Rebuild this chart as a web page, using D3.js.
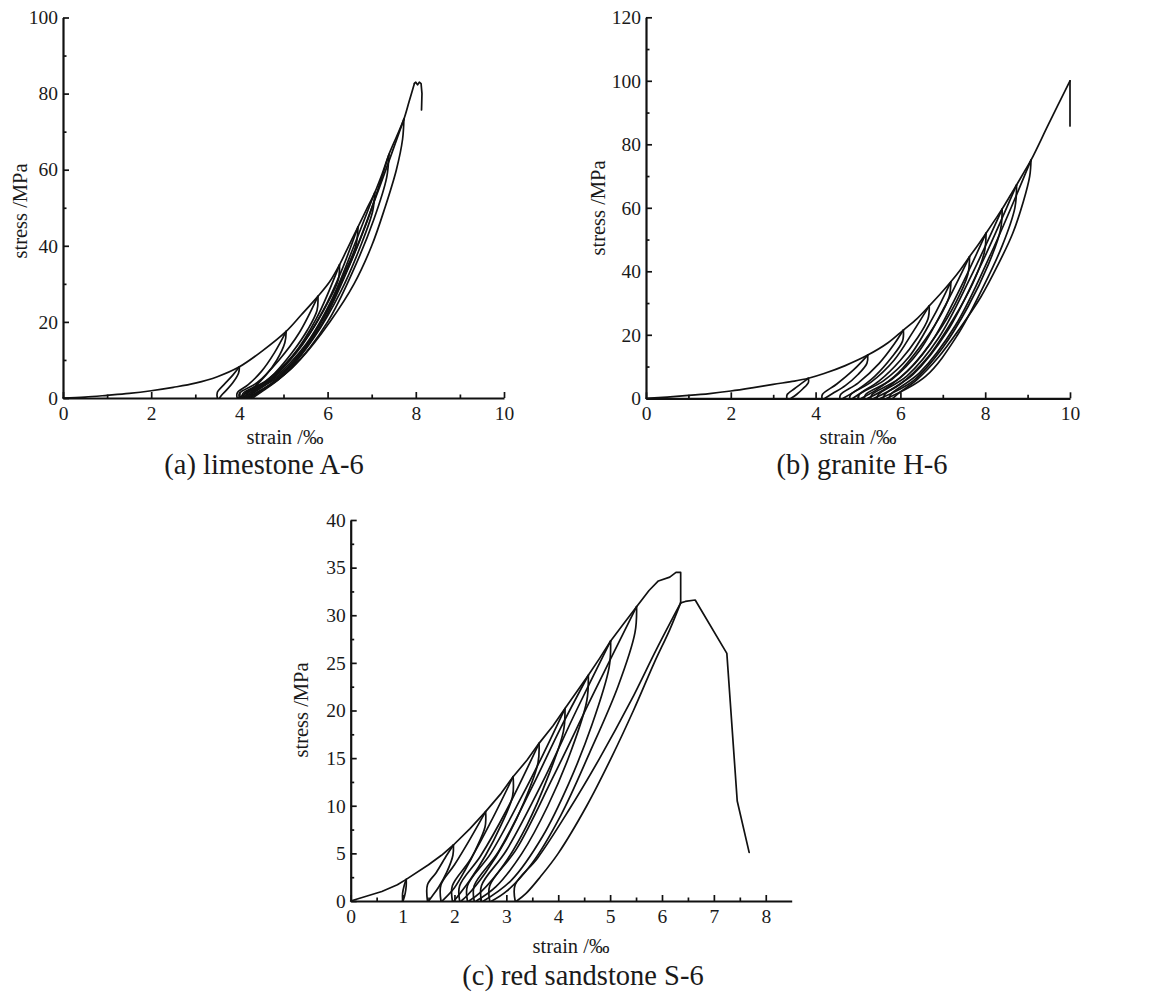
<!DOCTYPE html>
<html><head><meta charset="utf-8">
<script src="https://cdn.jsdelivr.net/npm/d3@7"></script>
<style>
body{margin:0;background:#fff}
svg text{font-family:"Liberation Serif","Times New Roman","DejaVu Serif",serif;fill:#1a1a1a}
</style>
</head><body>
<svg id="chart" width="1152" height="995"></svg>
<script>
// ---------- tick values / labels ----------
const aXTicks = [0,2,4,6,8,10];
const aXMinor = [1,3,5,7,9];
const aYTicks = [0,20,40,60,80,100];
const aYMinor = [10,30,50,70,90];
const bXTicks = [0,2,4,6,8,10];
const bXMinor = [1,3,5,7,9];
const bYTicks = [0,20,40,60,80,100,120];
const bYMinor = [10,30,50,70,90,110];
const cXTicks = [0,1,2,3,4,5,6,7,8];
const cXMinor = [0.5,1.5,2.5,3.5,4.5,5.5,6.5,7.5];
const cYTicks = [0,5,10,15,20,25,30,35,40];
const cYMinor = [2.5,7.5,12.5,17.5,22.5,27.5,32.5,37.5];

const captions = ["(a) limestone A-6","(b) granite H-6","(c) red sandstone S-6"];
const xTitle = "strain /\u2030";
const yTitle = "stress /MPa";

// ---------- (a) limestone A-6 : [strain ‰, stress MPa] ----------
const limestoneEnvelope = [[0,0],[0.5,0.25],[1,0.7],[1.5,1.2],[2,1.9],[2.5,2.8],[3,3.9],[3.5,5.6],[4.0,8.2],[4.5,12.2],[5.06,17.5],[5.4,21.8],[5.78,26.7],[6.05,30.6],[6.27,35],[6.48,40],[6.69,45],[6.88,49.5],[7.07,54],[7.24,59],[7.39,64],[7.56,68.6],[7.73,73.3],[7.85,78],[7.97,82.7]];
const limestoneFailure = [[7.97,82.7],[8.0,83],[8.04,82.3],[8.08,83],[8.12,82.6],[8.14,80],[8.13,75.7]];
const limestoneUnload = [
  [[4.0,8.2],[3.98,6.5],[3.85,4],[3.7,2],[3.6,0.8],[3.55,0]],
  [[5.06,17.5],[5.03,14.5],[4.85,10],[4.6,6],[4.3,2.5],[4.1,0.8],[3.97,0]],
  [[5.78,26.7],[5.76,23],[5.55,18],[5.2,12],[4.8,6.5],[4.4,2.5],[4.05,0]],
  [[6.27,35],[6.24,31],[6.0,25],[5.6,17],[5.1,9.5],[4.6,3.5],[4.1,0]],
  [[6.69,45],[6.64,40],[6.35,32],[5.95,22],[5.4,12],[4.8,4.5],[4.15,0]],
  [[7.07,54],[7.02,49],[6.75,40],[6.3,28],[5.7,16],[5.0,6],[4.2,0]],
  [[7.39,64],[7.34,58],[7.05,47],[6.6,34],[6.0,20],[5.2,8],[4.25,0]],
  [[7.73,73.3],[7.7,68],[7.56,60],[7.3,50],[7.0,40],[6.6,30],[6.05,20],[5.37,10],[4.9,5],[4.55,2],[4.3,0]]
];
const limestoneReload = [
  [[3.5,0],[3.5,1.5],[3.65,3.5],[3.85,6],[4.0,8.2]],
  [[3.95,0],[3.95,1.3],[4.2,3.5],[4.5,7],[4.8,12],[5.06,17.5]],
  [[4.0,0],[4.0,1.2],[4.4,4],[4.9,10],[5.35,17],[5.78,26.7]],
  [[4.05,0],[4.08,1.2],[4.6,4.5],[5.2,11],[5.75,21],[6.27,35]],
  [[4.1,0],[4.12,1.2],[4.7,5],[5.3,12],[5.9,23],[6.3,33],[6.69,45]],
  [[4.15,0],[4.18,1.2],[4.8,5.5],[5.5,14],[6.1,26],[6.6,40],[7.07,54]],
  [[4.2,0],[4.23,1.2],[4.9,6],[5.6,15],[6.3,30],[6.85,45],[7.39,64]],
  [[4.25,0],[4.28,1.2],[5.0,6.5],[5.8,18],[6.5,35],[7.1,53],[7.73,73.3]]
];

// ---------- (b) granite H-6 ----------
const graniteEnvelope = [[0,0],[0.5,0.4],[1,0.9],[1.5,1.5],[2,2.3],[2.5,3.3],[3,4.4],[3.5,5.4],[3.83,6.3],[4.2,7.8],[4.7,10.3],[5.23,13.6],[5.7,17.4],[6.07,21.5],[6.4,25.2],[6.68,29.1],[6.95,33],[7.19,36.7],[7.42,40.6],[7.63,44.6],[7.83,48.3],[8.02,52],[8.21,55.8],[8.4,59.6],[8.57,63.4],[8.74,67.2],[8.91,71.1],[9.08,75],[9.5,86.5],[10,100]];
const graniteFailure = [[10,100],[10,85.8]];
const graniteUnload = [
  [[3.83,6.3],[3.83,5],[3.7,3],[3.55,1.2],[3.42,0]],
  [[5.23,13.6],[5.21,11],[5.0,7.5],[4.7,4],[4.4,1.5],[4.22,0]],
  [[6.07,21.5],[6.05,18],[5.8,13],[5.4,7],[5.0,2.8],[4.65,0]],
  [[6.68,29.1],[6.65,25],[6.4,19],[6.0,12],[5.5,5.5],[5.1,2],[4.88,0]],
  [[7.19,36.7],[7.15,32],[6.9,25],[6.45,16],[5.95,8],[5.45,2.8],[5.08,0]],
  [[7.63,44.6],[7.59,39],[7.3,30],[6.85,20],[6.3,10.5],[5.7,3.5],[5.23,0]],
  [[8.02,52],[7.98,46],[7.7,36],[7.25,25],[6.65,13],[6.0,4.5],[5.38,0]],
  [[8.4,59.6],[8.36,53],[8.07,42],[7.6,29],[7.0,16],[6.3,5.5],[5.53,0]],
  [[8.74,67.2],[8.7,60],[8.4,48],[7.95,35],[7.35,20],[6.6,7],[5.68,0]],
  [[9.08,75],[9.05,70],[8.9,62],[8.65,52],[8.3,42],[7.9,32],[7.4,22],[6.9,13],[6.4,6],[6.0,2],[5.82,0]]
];
const graniteReload = [
  [[3.32,0],[3.33,1.2],[3.5,3],[3.7,5],[3.83,6.3]],
  [[4.15,0],[4.16,1.2],[4.5,4.5],[4.9,9],[5.23,13.6]],
  [[4.57,0],[4.59,1.2],[5.0,4.8],[5.5,11],[5.85,17],[6.07,21.5]],
  [[4.8,0],[4.83,1.2],[5.3,5],[5.85,12],[6.3,21],[6.68,29.1]],
  [[5.0,0],[5.03,1.2],[5.6,5.5],[6.2,13],[6.75,25],[7.19,36.7]],
  [[5.15,0],[5.18,1.2],[5.8,6],[6.45,15],[7.05,29],[7.63,44.6]],
  [[5.3,0],[5.33,1.2],[6.0,6.5],[6.7,17],[7.35,33],[8.02,52]],
  [[5.45,0],[5.48,1.2],[6.15,7],[6.9,19],[7.65,38],[8.4,59.6]],
  [[5.6,0],[5.63,1.2],[6.3,7.5],[7.1,21],[7.9,42],[8.74,67.2]],
  [[5.74,0],[5.77,1.2],[6.45,8],[7.3,23],[8.15,46],[9.08,75]]
];

// ---------- (c) red sandstone S-6 ----------
const sandstoneEnvelope = [[0,0],[0.3,0.5],[0.6,1.0],[0.9,1.7],[1.07,2.27],[1.5,3.8],[1.75,4.8],[1.98,5.88],[2.3,7.6],[2.6,9.38],[2.9,11.3],[3.13,13.05],[3.4,14.8],[3.63,16.55],[3.9,18.4],[4.13,20.2],[4.36,22],[4.58,23.7],[4.8,25.5],[5.01,27.3],[5.26,29.1],[5.51,30.9],[5.75,32.6],[5.93,33.6],[6.15,34.0],[6.27,34.5],[6.36,34.5],[6.36,31.3]];
const sandstonePostPeak = [[6.36,31.3],[6.45,31.45],[6.64,31.6],[7.25,26],[7.45,10.5],[7.68,5.1]];
const sandstoneUnload = [
  [[1.07,2.27],[1.07,1.6],[1.05,0.8],[1.02,0.2],[1.0,0]],
  [[1.98,5.88],[1.97,4.8],[1.85,3.0],[1.7,1.5],[1.57,0.5],[1.5,0]],
  [[2.6,9.38],[2.59,7.8],[2.4,5.3],[2.2,3.2],[2.0,1.4],[1.8,0.2],[1.76,0]],
  [[3.13,13.05],[3.12,11],[2.9,8],[2.6,4.8],[2.3,2.2],[2.05,0.4],[1.99,0]],
  [[3.63,16.55],[3.61,14.5],[3.35,10.5],[3.0,6.5],[2.6,3],[2.25,0.6],[2.13,0]],
  [[4.13,20.2],[4.1,17.8],[3.8,13],[3.4,8],[2.95,3.8],[2.5,0.9],[2.28,0]],
  [[4.58,23.7],[4.55,21],[4.25,15.8],[3.8,10],[3.3,5],[2.8,1.5],[2.42,0]],
  [[5.01,27.3],[4.98,24.5],[4.65,18.5],[4.2,12.3],[3.7,6.8],[3.1,2.2],[2.56,0]],
  [[5.51,30.9],[5.48,28.2],[5.15,22.5],[4.6,15.5],[4.05,9],[3.5,4],[3.0,1],[2.72,0]],
  [[6.36,31.3],[6.15,28.5],[5.85,25],[5.45,20],[5.02,15],[4.55,10],[4.0,5],[3.65,2.5],[3.38,0.8],[3.2,0]]
];
const sandstoneReload = [
  [[1.0,0],[1.0,0.8],[1.03,1.6],[1.07,2.27]],
  [[1.48,0],[1.48,1.7],[1.65,3.0],[1.85,4.8],[1.98,5.88]],
  [[1.74,0],[1.74,1.7],[2.0,3.8],[2.3,6.5],[2.6,9.38]],
  [[1.96,0],[1.96,1.6],[2.3,4.3],[2.7,8.3],[3.13,13.05]],
  [[2.1,0],[2.1,1.6],[2.5,4.7],[3.0,9.5],[3.63,16.55]],
  [[2.25,0],[2.25,1.6],[2.7,5],[3.3,11],[3.7,15.3],[4.13,20.2]],
  [[2.38,0],[2.38,1.6],[2.85,5.2],[3.5,12],[4.05,18.2],[4.58,23.7]],
  [[2.52,0],[2.52,1.6],[3.0,5.3],[3.7,12.5],[4.35,20],[5.01,27.3]],
  [[2.68,0],[2.68,1.6],[3.2,5.5],[3.9,13],[4.7,22],[5.51,30.9]],
  [[3.17,0],[3.17,1.7],[3.6,4.5],[4.2,9.5],[4.8,15],[5.4,21],[5.9,26.5],[6.36,31.3]]
];

// ---------- layout ----------
const FONT = '"Liberation Serif","Times New Roman","DejaVu Serif",serif';
const panels = [
  {x0:63, x1:504, yTop:17.5, yBot:398, xDom:[0,10], yDom:[0,100],
   xT:aXTicks, xM:aXMinor, yT:aYTicks, yM:aYMinor,
   env:limestoneEnvelope, tail:limestoneFailure, unl:limestoneUnload, rel:limestoneReload,
   cap:captions[0], capX:264, capY:474, xtX:285, xtY:444, ytX:27, ytY:211, smooth:true},
  {x0:646, x1:1070, yTop:17.3, yBot:398.3, xDom:[0,10], yDom:[0,120],
   xT:bXTicks, xM:bXMinor, yT:bYTicks, yM:bYMinor,
   env:graniteEnvelope, tail:graniteFailure, unl:graniteUnload, rel:graniteReload,
   cap:captions[1], capX:862, capY:474, xtX:858, xtY:444, ytX:605, ytY:208, smooth:true},
  {x0:350.7, x1:791.7, yTop:520, yBot:901, xDom:[0,8.5], yDom:[0,40],
   xT:cXTicks, xM:cXMinor, yT:cYTicks, yM:cYMinor,
   env:sandstoneEnvelope, tail:sandstonePostPeak, unl:sandstoneUnload, rel:sandstoneReload,
   cap:captions[2], capX:583, capY:985, xtX:571, xtY:953, ytX:308, ytY:710, smooth:false}
];

const svg = d3.select("#chart").attr("font-family", FONT);
const ink = "#111";

panels.forEach(p => {
  const xs = d3.scaleLinear().domain(p.xDom).range([p.x0, p.x1]);
  const ys = d3.scaleLinear().domain(p.yDom).range([p.yBot, p.yTop]);
  const g = svg.append("g");

  // minor ticks
  g.append("g").attr("transform",`translate(0,${p.yBot})`)
    .call(d3.axisBottom(xs).tickValues(p.xM).tickSize(-3.5).tickFormat(""))
    .call(a => a.select(".domain").remove());
  g.append("g").attr("transform",`translate(${p.x0},0)`)
    .call(d3.axisLeft(ys).tickValues(p.yM).tickSize(-3.5).tickFormat(""))
    .call(a => a.select(".domain").remove());

  // major axes
  g.append("g").attr("transform",`translate(0,${p.yBot})`)
    .call(d3.axisBottom(xs).tickValues(p.xT).tickSize(-6).tickSizeOuter(0).tickPadding(8).tickFormat(d3.format("")));
  g.append("g").attr("transform",`translate(${p.x0},0)`)
    .call(d3.axisLeft(ys).tickValues(p.yT).tickSize(-6).tickSizeOuter(0).tickPadding(5).tickFormat(d3.format("")));

  g.selectAll("g").attr("font-family", FONT);
  g.selectAll(".tick line").attr("stroke", ink).attr("stroke-width", 1.7);
  g.selectAll(".domain").attr("stroke", ink).attr("stroke-width", 2.2);
  g.selectAll(".tick text").attr("font-size", 19.5).attr("fill","#1a1a1a")
    .attr("font-family", FONT);

  // curves
  const smoothLine = d3.line().x(d => xs(d[0])).y(d => ys(d[1])).curve(d3.curveCatmullRom.alpha(0.5));
  const straightLine = d3.line().x(d => xs(d[0])).y(d => ys(d[1])).curve(d3.curveLinear);
  const envLine = p.smooth ? smoothLine : straightLine;
  const sw = 1.7;

  const drawPath = (data, gen) => g.append("path").attr("d", gen(data))
    .attr("fill","none").attr("stroke", ink).attr("stroke-width", sw)
    .attr("stroke-linejoin","round").attr("stroke-linecap","round");

  p.unl.forEach(d => drawPath(d, smoothLine));
  p.rel.forEach(d => drawPath(d, smoothLine));
  drawPath(p.env, envLine);
  drawPath(p.tail, straightLine);

  // titles
  g.append("text").attr("x", p.xtX).attr("y", p.xtY).attr("text-anchor","middle")
    .attr("font-family", FONT).attr("font-size", 20.5).attr("fill","#333").text(xTitle);
  g.append("text").attr("transform",`translate(${p.ytX},${p.ytY}) rotate(-90)`)
    .attr("text-anchor","middle").attr("font-family", FONT).attr("font-size", 20.5).attr("fill","#333").text(yTitle);
  g.append("text").attr("x", p.capX).attr("y", p.capY).attr("text-anchor","middle")
    .attr("font-family", FONT).attr("font-size", 28.5).attr("fill","#1a1a1a").text(p.cap);
});
</script>
</body></html>
